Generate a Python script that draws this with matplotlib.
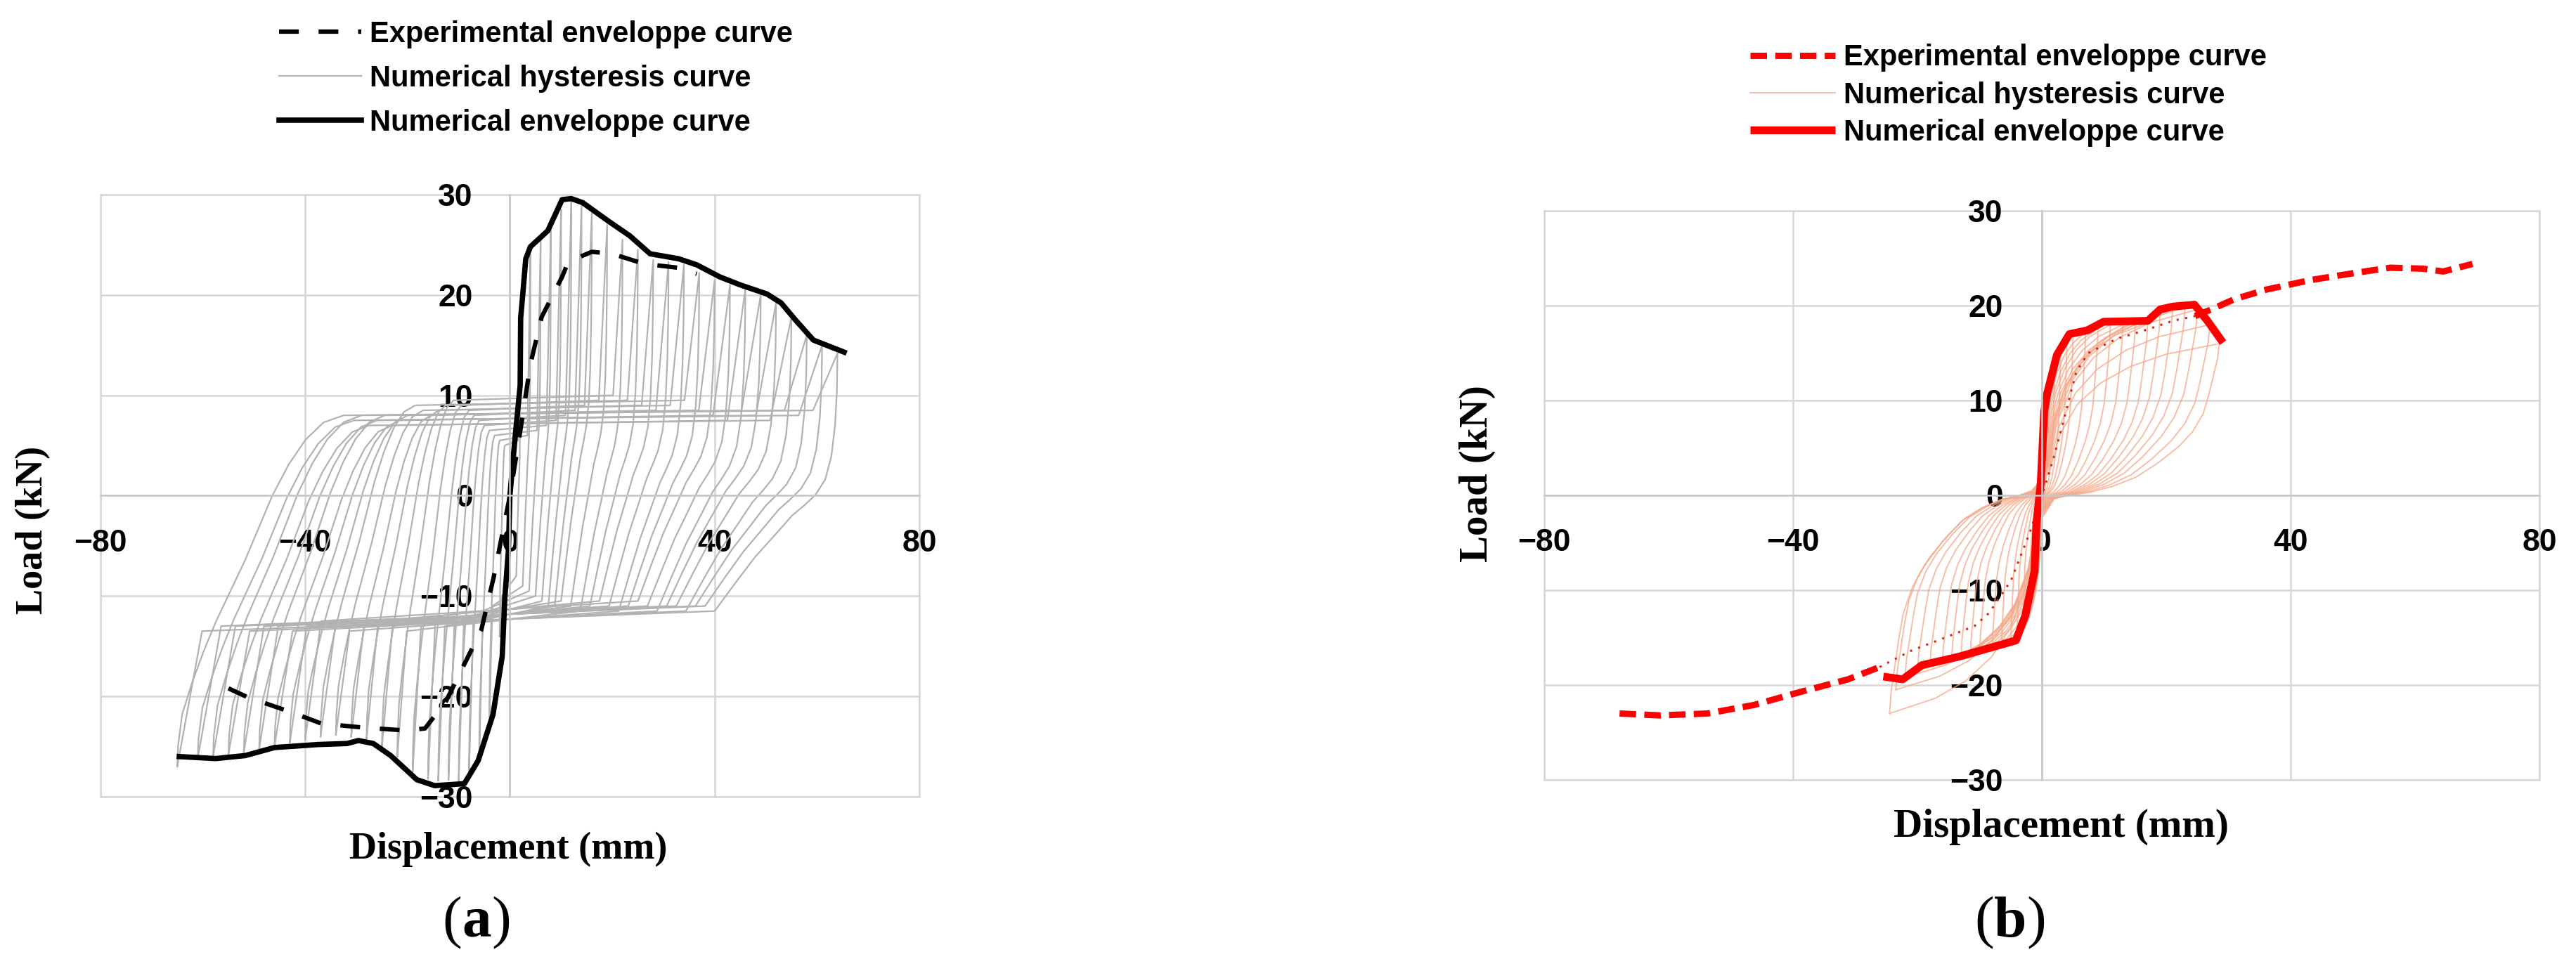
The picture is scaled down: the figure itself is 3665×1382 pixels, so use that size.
import numpy as np
import matplotlib
matplotlib.use("Agg")
import matplotlib.pyplot as plt
from matplotlib.patches import Rectangle

SANS = "Liberation Sans"
SERIF = "Liberation Serif"
plt.rcParams["font.family"] = [SANS, "DejaVu Sans"]
plt.rcParams["font.weight"] = "bold"

X_TICKS = [-80, -40, 0, 40, 80]
Y_TICKS = [-30, -20, -10, 0, 10, 20, 30]
LEGEND_LABELS = ["Experimental enveloppe curve",
                 "Numerical hysteresis curve",
                 "Numerical enveloppe curve"]

# ---------- (a) ----------
A_NUM_ENV_X = [-64.6, -57.5, -51.7, -46.0, -37.5, -31.8, -29.6, -26.7, -23.3, -18.2,
               -14.7, -8.9, -6.2, -3.3, -1.5, -1.0, -0.3, 0.0, 0.9, 2.0, 2.1, 2.5,
               3.1, 4.0, 7.4, 10.2, 12.0, 14.2, 19.4, 23.4, 27.4, 30.8, 33.0, 36.5,
               41.0, 45.0, 50.2, 53.0, 55.8, 59.3, 65.3]
A_NUM_ENV_Y = [-26.0, -26.2, -25.9, -25.1, -24.8, -24.7, -24.4, -24.7, -25.9, -28.3,
               -28.9, -28.7, -26.4, -21.8, -16.0, -10.2, -5.5, 0.0, 5.2, 11.0, 17.7, 20.0,
               23.6, 24.8, 26.4, 29.5, 29.6, 29.2, 27.3, 25.9, 24.1, 23.8, 23.6, 23.0,
               21.8, 21.0, 20.1, 19.2, 17.5, 15.5, 14.3]

A_EXP_ENV_X = [-55.0, -51.2, -46.6, -42.6, -36.9, -28.9, -20.4, -16.6, -12.5, -9.5,
               -5.6, -3.2, 0.0, 2.2, 4.0, 6.2, 10.2, 11.4, 16.0, 20.0, 26.2, 33.0, 36.5]
A_EXP_ENV_Y = [-19.2, -20.1, -20.9, -21.6, -22.7, -23.1, -23.4, -23.2, -20.5, -17.4,
               -13.4, -8.2, 0.0, 7.0, 13.1, 17.8, 21.8, 23.3, 24.3, 24.1, 23.1, 22.7, 22.1]

# cycle peaks and slip plateaus of the numerical hysteresis (a)
A_POS_DISP = [2, 4, 6, 8, 10, 12, 14, 16, 19, 22, 25, 28, 31, 34, 37, 40, 43, 46, 49, 52, 55, 58, 61, 64]
A_POS_LOAD = [16.0, 24.0, 25.5, 26.5, 28.5, 29.3, 29.0, 28.2, 27.0, 25.5, 24.5, 23.5,
              23.3, 23.0, 22.2, 21.5, 21.0, 20.6, 20.0, 19.2, 17.8, 16.0, 15.0, 14.2]
A_NEG_DISP = [2, 4, 6, 8, 10, 12, 14, 16, 19, 22, 25, 28, 31, 34, 37, 40, 43, 46, 49, 52, 55, 58, 61, 65]
A_NEG_LOAD = [-14.0, -22.0, -26.5, -28.0, -28.4, -28.3, -28.4, -28.2, -27.5, -26.0, -25.0, -24.2,
              -24.0, -23.8, -24.0, -24.3, -24.6, -25.0, -25.3, -25.6, -25.8, -26.0, -26.2, -27.0]
A_POS_PLATEAU = [5.0, 5.5, 6.0, 6.5, 7.0, 7.5, 8.0, 8.5, 9.0, 9.5, 9.0, 8.5,
                 8.0, 8.5, 9.0, 8.0, 7.5, 7.0, 8.0, 7.5, 7.0, 8.0, 7.5, 8.0]
A_NEG_PLATEAU = [-9.0, -10.0, -10.5, -11.0, -11.5, -12.0, -12.0, -11.5, -12.0, -12.5, -12.0, -11.5,
                 -12.0, -12.5, -12.0, -11.5, -12.0, -12.5, -12.0, -12.0, -12.5, -12.0, -12.0, -12.5]
# normalised arc shapes traced off the outermost loop
A_ARC_L_U = [0, 0.005, 0.03, 0.09, 0.16, 0.23, 0.32, 0.41, 0.49, 0.57, 0.67, 0.77, 0.88, 1.0]
A_ARC_L_V = [0, 0.06, 0.15, 0.24, 0.33, 0.41, 0.50, 0.59, 0.68, 0.77, 0.86, 0.93, 0.98, 1.0]
A_ARC_R_U = [0, 0.005, 0.02, 0.05, 0.10, 0.18, 0.27, 0.37, 0.50, 0.67, 0.83, 1.0]
A_ARC_R_V = [0, 0.15, 0.28, 0.40, 0.49, 0.55, 0.59, 0.63, 0.70, 0.79, 0.89, 1.0]
A_ARC_L_SPAN = 0.5
A_ARC_R_SPAN = 0.375

# ---------- (b) ----------
B_NUM_ENV_X = [-25.5, -22.4, -19.3, -13.3, -4.2, -2.7, -1.2, -0.9, -0.2, 0.35, 0.85,
               2.4, 4.4, 7.3, 9.9, 17.0, 19.0, 21.0, 24.5, 26.6, 29.1]
B_NUM_ENV_Y = [-19.1, -19.4, -17.9, -17.0, -15.3, -12.7, -8.0, -3.0, 1.3, 8.8, 10.8,
               14.8, 17.0, 17.4, 18.3, 18.4, 19.6, 19.9, 20.1, 18.4, 16.1]

B_EXP_ENV_X = [-67.9, -61.4, -53.8, -46.3, -38.7, -31.2, -26.1, -21.1, -16.0, -10.9, -8.5,
               -5.0, -2.0, 0.0, 1.8, 2.8, 5.5, 7.4, 12.0, 17.0, 21.0, 24.6, 27.2, 31.0,
               36.1, 43.2, 50.8, 56.0, 61.2, 64.5, 69.2]
B_EXP_ENV_Y = [-23.0, -23.2, -23.0, -22.1, -20.7, -19.4, -18.1, -16.4, -15.1, -13.8, -12.4,
               -9.0, -4.0, 0.0, 3.8, 6.2, 13.0, 15.0, 16.5, 17.5, 18.4, 18.9, 19.6, 20.7,
               21.7, 22.7, 23.5, 24.0, 23.9, 23.6, 24.4]
# part of the experimental curve hidden inside the loops (drawn faint)
B_EXP_HIDDEN = (-26.1, 24.6)

B_POS_DISP = [1, 2, 3, 4, 5, 7, 9, 11, 13, 15, 17, 19, 21, 23, 25, 27, 28.5]
B_POS_LOAD = [9.0, 13.0, 15.5, 16.5, 17.0, 17.2, 17.6, 18.0, 18.0, 18.0, 18.2, 19.2,
              19.6, 19.8, 19.6, 18.0, 16.0]
B_NEG_DISP = [1, 2, 3, 4, 5, 6.5, 8, 10, 11.5, 13, 14.5, 16, 18, 20, 22, 23.5, 24.5]
B_NEG_LOAD = [-7.0, -11.0, -13.5, -15.0, -15.5, -15.8, -16.2, -16.5, -16.8, -17.0, -17.2,
              -17.6, -18.0, -18.5, -19.2, -20.5, -23.0]
B_UNLOAD_U = [0, 0.01, 0.035, 0.06, 0.09, 0.15, 0.23, 0.35, 0.47, 0.60, 0.73, 0.85, 0.93]
B_UNLOAD_V = [0, 0.10, 0.22, 0.34, 0.46, 0.58, 0.68, 0.79, 0.88, 0.94, 0.98, 1.0, 1.02]
B_RELOAD_U = [0.04, 0.10, 0.20, 0.33, 0.50, 0.70, 1.0]
B_RELOAD_V = [0.15, 0.40, 0.60, 0.74, 0.85, 0.93, 1.0]

GRID = "#d6d6d6"
GREY_HYS = "#b2b2b2"
SALMON = "#f4a88a"


def loop_a(dp, fp, dn, fn, pp, pn):
    lu, lv = np.array(A_ARC_L_U), np.array(A_ARC_L_V)
    ru, rv = np.array(A_ARC_R_U), np.array(A_ARC_R_V)
    wl, wr = A_ARC_L_SPAN * dn, A_ARC_R_SPAN * dp
    xs = [-dn + lu * wl, [dp * 0.93 - 0.3, dp], dp - ru * wr, [-dn * 0.93 + 0.3, -dn]]
    ys = [fn + lv * (pp - fn), [pp + 0.5, fp], fp + rv * (pn + 1 - fp), [pn - 1, fn]]
    return np.concatenate(xs), np.concatenate(ys)


def loop_b(dp, fp, dn, fn):
    u, v = np.array(B_UNLOAD_U), np.array(B_UNLOAD_V)
    ru, rv = np.array(B_RELOAD_U), np.array(B_RELOAD_V)
    xs = [-dn + u * dn, ru * dp, dp - u * dp, -ru * dn]
    ys = [fn * (1 - v), rv * fp, fp * (1 - v), rv * fn]
    return np.concatenate(xs), np.concatenate(ys)


def style_axes(ax, ypad):
    ax.set_xlim(-80, 80)
    ax.set_ylim(-30, 30)
    ax.set_xticks(X_TICKS)
    ax.set_yticks(Y_TICKS)
    ax.grid(True, color=GRID, lw=1.8)
    ax.set_axisbelow(True)
    ax.spines["top"].set_visible(False)
    ax.spines["right"].set_visible(False)
    for s in ("left", "bottom"):
        ax.spines[s].set_position(("data", 0))
        ax.spines[s].set_color("#c8c8c8")
        ax.spines[s].set_linewidth(1.8)
    ax.tick_params(length=0, labelsize=32)
    ax.tick_params(axis="x", pad=34)
    ax.tick_params(axis="y", pad=ypad)
    ax.add_patch(Rectangle((0, 0), 1, 1, transform=ax.transAxes, fill=False,
                           ec=GRID, lw=1.8, clip_on=False, zorder=0))


fig = plt.figure(figsize=(36.65, 13.82), dpi=100)
ax_a = fig.add_axes([0.0390, 0.1795, 0.3179, 0.6201])
ax_b = fig.add_axes([0.5995, 0.1968, 0.3864, 0.5861])

# panel (a)
for i in range(len(A_POS_DISP)):
    x, y = loop_a(A_POS_DISP[i], A_POS_LOAD[i], A_NEG_DISP[i], A_NEG_LOAD[i],
                  A_POS_PLATEAU[i], A_NEG_PLATEAU[i])
    h_hys_a, = ax_a.plot(x, y, color=GREY_HYS, lw=1.6)
h_exp_a, = ax_a.plot(A_EXP_ENV_X, A_EXP_ENV_Y, color="black", lw=4.5,
                     linestyle=(0, (4.5, 4.5)))
h_num_a, = ax_a.plot(A_NUM_ENV_X, A_NUM_ENV_Y, color="black", lw=5.5,
                     solid_joinstyle="round")
style_axes(ax_a, 38)
ax_a.legend([h_exp_a, h_hys_a, h_num_a], LEGEND_LABELS, loc="upper left",
            bbox_to_anchor=(0.1083, 0.979), bbox_transform=fig.transFigure,
            frameon=False, fontsize=30, handlelength=2.8, handletextpad=0.3,
            labelspacing=0.55, borderpad=0, borderaxespad=0)

# panel (b)
for i in range(len(B_POS_DISP)):
    x, y = loop_b(B_POS_DISP[i], B_POS_LOAD[i], B_NEG_DISP[i], B_NEG_LOAD[i])
    h_hys_b, = ax_b.plot(x, y, color=SALMON, lw=1.4, alpha=0.75)
bx, by = np.array(B_EXP_ENV_X), np.array(B_EXP_ENV_Y)
lo, hi = B_EXP_HIDDEN
inner = (bx >= lo) & (bx <= hi)
ax_b.plot(bx[inner], by[inner], color="#d42a10", lw=2.2, linestyle=(0, (1, 3)))
h_exp_b, = ax_b.plot(bx[bx <= lo], by[bx <= lo], color="#ff0000", lw=6.5,
                     linestyle=(0, (2.6, 1.3)))
ax_b.plot(bx[bx >= hi], by[bx >= hi], color="#ff0000", lw=6.5,
          linestyle=(0, (2.6, 1.3)))
h_num_b, = ax_b.plot(B_NUM_ENV_X, B_NUM_ENV_Y, color="#ff0000", lw=8,
                     solid_joinstyle="round", solid_capstyle="butt")
style_axes(ax_b, 40)
ax_b.legend([h_exp_b, h_hys_b, h_num_b], LEGEND_LABELS, loc="upper left",
            bbox_to_anchor=(0.6794, 0.955), bbox_transform=fig.transFigure,
            frameon=False, fontsize=30, handlelength=2.9, handletextpad=0.3,
            labelspacing=0.32, borderpad=0, borderaxespad=0)

# axis titles and sub-captions
fig.text(0.0128, 0.4544, "Load (kN)", rotation=90, ha="center", va="center",
         family=SERIF, weight="bold", fontsize=39)
fig.text(0.5735, 0.5123, "Load (kN)", rotation=90, ha="center", va="center",
         family=SERIF, weight="bold", fontsize=41)
fig.text(0.1973, 0.1158, "Displacement (mm)", ha="center", va="baseline",
         family=SERIF, weight="bold", fontsize=39)
fig.text(0.8000, 0.1382, "Displacement (mm)", ha="center", va="baseline",
         family=SERIF, weight="bold", fontsize=41)
for xc, letter, half in ((0.185, "a", 21), (0.7804, "b", 23)):
    off = half / 3665
    fig.text(xc, 0.0355, letter, ha="center", va="baseline", family=SERIF,
             weight="bold", fontsize=60)
    fig.text(xc - off, 0.0355, "(", ha="right", va="baseline", family=SERIF,
             weight="normal", fontsize=60)
    fig.text(xc + off, 0.0355, ")", ha="left", va="baseline", family=SERIF,
             weight="normal", fontsize=60)

fig.savefig("out.png", dpi=100, facecolor="white")
